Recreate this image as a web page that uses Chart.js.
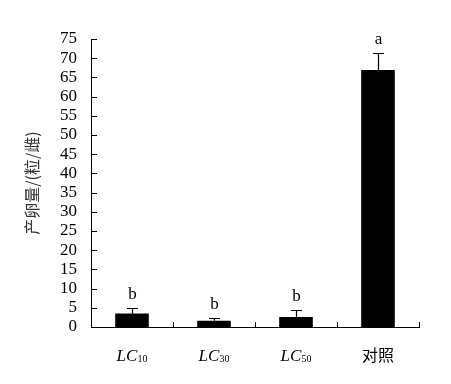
<!DOCTYPE html>
<html><head><meta charset="utf-8">
<script src="https://cdn.jsdelivr.net/npm/chart.js@4.4.0/dist/chart.umd.min.js"></script>
<style>html,body{margin:0;padding:0;background:#fff}#wrap{width:451px;height:384px}</style>
</head><body><div id="wrap"><canvas id="c" width="451" height="384"></canvas></div>
<script>
const categories = ['LC10', 'LC30', 'LC50', '对照'];
const eggCounts = [3.5, 1.6, 2.6, 66.9];
const errors = [1.4, 0.7, 1.7, 4.4];
const sigLetters = ['b', 'b', 'b', 'a'];
const yTicks = [0, 5, 10, 15, 20, 25, 30, 35, 40, 45, 50, 55, 60, 65, 70, 75];

const serif = '"Liberation Serif", "Times New Roman", serif';
const cjk = '"Noto Sans CJK SC", sans-serif';

const decor = {
  id: 'decor',
  afterDraw(chart) {
    const ctx = chart.ctx, x = chart.scales.x, y = chart.scales.y, a = chart.chartArea;
    ctx.save();
    ctx.strokeStyle = '#000'; ctx.lineWidth = 1;
    yTicks.forEach(v => {
      const py = Math.round(y.getPixelForValue(v)) + 0.5;
      ctx.beginPath(); ctx.moveTo(a.left, py); ctx.lineTo(a.left + 6, py); ctx.stroke();
    });
    for (let i = 1; i <= categories.length; i++) {
      const px = Math.round(x.getPixelForValue(i - 0.5)) + 0.5;
      ctx.beginPath(); ctx.moveTo(px, a.bottom); ctx.lineTo(px, a.bottom - 5); ctx.stroke();
    }
    const meta = chart.getDatasetMeta(0);
    ctx.lineWidth = 1.2;
    meta.data.forEach((bar, i) => {
      const cx = Math.round(bar.x) + 0.5;
      const top = y.getPixelForValue(eggCounts[i]);
      const et = Math.round(y.getPixelForValue(eggCounts[i] + errors[i])) + 0.5;
      ctx.beginPath(); ctx.moveTo(cx, top); ctx.lineTo(cx, et);
      ctx.moveTo(cx - 5.5, et); ctx.lineTo(cx + 5.5, et); ctx.stroke();
      ctx.fillStyle = '#000';
      ctx.font = '17px ' + serif;
      ctx.textAlign = 'center'; ctx.textBaseline = 'alphabetic';
      ctx.fillText(sigLetters[i], cx, et - 10);
    });
    ctx.textBaseline = 'alphabetic';
    categories.forEach((c, i) => {
      const cx = x.getPixelForValue(i);
      const base = 361;
      const m = c.match(/^([A-Za-z]+)(\d+)$/);
      if (m) {
        ctx.font = 'italic 17px ' + serif;
        const w1 = ctx.measureText(m[1]).width;
        ctx.font = '10px ' + serif;
        const w2 = ctx.measureText(m[2]).width;
        const start = cx - (w1 + w2) / 2;
        ctx.textAlign = 'left';
        ctx.font = 'italic 17px ' + serif;
        ctx.fillText(m[1], start, base);
        ctx.font = '10px ' + serif;
        ctx.fillText(m[2], start + w1, base + 1);
      } else {
        ctx.font = '16px ' + cjk;
        ctx.textAlign = 'center';
        ctx.fillText(c, cx, base);
      }
    });
    ctx.restore();
  }
};

new Chart(document.getElementById('c'), {
  type: 'bar',
  data: {
    labels: categories,
    datasets: [{
      data: eggCounts,
      backgroundColor: '#000',
      borderWidth: 0,
      barPercentage: 0.41,
      categoryPercentage: 1.0
    }]
  },
  options: {
    responsive: false,
    animation: false,
    devicePixelRatio: 1,
    layout: { padding: { left: 22, right: 32, top: 39, bottom: 0 } },
    plugins: { legend: { display: false }, tooltip: { enabled: false } },
    scales: {
      x: {
        grid: { display: false, drawTicks: false },
        border: { display: true, color: '#000', width: 1 },
        ticks: { display: false },
        afterFit(s) { s.height = 57; }
      },
      y: {
        min: 0, max: 75,
        afterBuildTicks(s) { s.ticks = yTicks.map(v => ({ value: v })); },
        grid: { display: false, drawTicks: false },
        border: { display: true, color: '#000', width: 1 },
        ticks: { color: '#000', padding: 14, autoSkip: false, font: { family: serif, size: 17 } },
        title: { display: true, text: '产卵量/(粒/雌)', color: '#333', padding: 0, font: { family: cjk, size: 16 } },
        afterFit(s) { s.width = 69; }
      }
    }
  },
  plugins: [decor]
});
</script></body></html>
